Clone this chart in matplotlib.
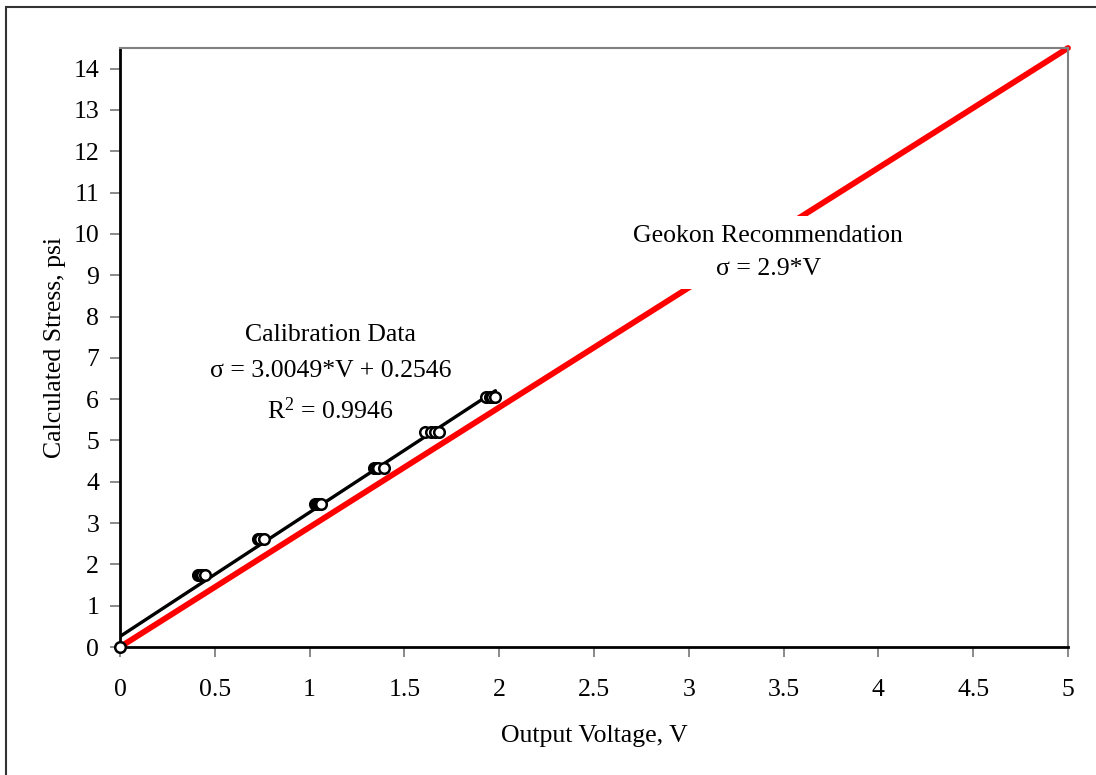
import matplotlib
matplotlib.use('Agg')
import matplotlib.pyplot as plt
from matplotlib.patches import Rectangle

## Data
## ====
voltage = [0.0,
           0.41, 0.42, 0.43, 0.45,
           0.73, 0.74, 0.76,
           1.03, 1.04, 1.05, 1.06,
           1.34, 1.35, 1.36, 1.39,
           1.61, 1.64, 1.66, 1.68,
           1.93, 1.95, 1.96, 1.98]
stress = [0.0,
          1.75, 1.75, 1.75, 1.75,
          2.61, 2.61, 2.61,
          3.46, 3.46, 3.46, 3.46,
          4.33, 4.33, 4.33, 4.33,
          5.20, 5.20, 5.20, 5.20,
          6.06, 6.06, 6.06, 6.06]

fit_slope = 3.0049
fit_intercept = 0.2546
geokon_slope = 2.9
geokon_range = [0, 5]

x_ticks = [0, 0.5, 1, 1.5, 2, 2.5, 3, 3.5, 4, 4.5, 5]
x_tick_labels = ['0', '0.5', '1', '1.5', '2', '2.5', '3', '3.5', '4', '4.5', '5']
y_ticks = list(range(0, 15))

## Style
## =====
plt.rcParams['font.family'] = ['Liberation Serif', 'DejaVu Serif']
plt.rcParams['mathtext.fontset'] = 'custom'
plt.rcParams['mathtext.rm'] = 'Liberation Serif'
plt.rcParams['mathtext.it'] = 'Liberation Serif'

fig = plt.figure(figsize=(10.96, 7.75), dpi=100)

# chart area frame (runs off the right/bottom edge like the original)
fig.patches.append(Rectangle((5.5 / 1096, -0.05), 1.2, 1 - 6.5 / 775 + 0.05,
                             transform=fig.transFigure, fill=False,
                             edgecolor='#333333', linewidth=1.5))

ax = fig.add_axes([120 / 1096, 1 - 647 / 775, 948 / 1096, 599 / 775])

# Geokon recommendation line
gx = geokon_range
gy = [geokon_slope * v for v in gx]
ax.plot(gx, gy, color='#ff0000', linewidth=4.2, solid_capstyle='round', zorder=2, clip_on=False)

# linear fit of calibration data
fx = [0, max(voltage)]
fy = [fit_slope * v + fit_intercept for v in fx]
ax.plot(fx, fy, color='black', linewidth=2.4, solid_capstyle='round', zorder=3)

# calibration points
ax.scatter(voltage, stress, s=58, facecolor='white', edgecolor='black',
           linewidth=1.8, zorder=4, clip_on=False)

ax.set_xlim(0, 5)
ax.set_ylim(0, 14.5)
ax.set_xticks(x_ticks)
ax.set_xticklabels(x_tick_labels)
ax.set_yticks(y_ticks)

for side in ['top', 'right']:
    ax.spines[side].set_color('#808080')
    ax.spines[side].set_linewidth(1.5)
for side in ['left', 'bottom']:
    ax.spines[side].set_color('black')
    ax.spines[side].set_linewidth(2)

ax.tick_params(axis='both', direction='out', length=7, width=1.3, color='#808080',
               labelsize=18.5)
ax.tick_params(axis='x', pad=16)
ax.tick_params(axis='y', pad=8)

ax.set_xlabel('Output Voltage, V', fontsize=18.5, labelpad=17)
ax.set_ylabel('Calculated Stress, psi', fontsize=18.5, labelpad=5)

# annotations
ax.text(1.11, 7.55, 'Calibration Data', fontsize=18.5, ha='center', va='center', zorder=5)
ax.text(1.11, 6.68, '\u03c3 = 3.0049*V + 0.2546', fontsize=18.5, ha='center', va='center', zorder=5)
ax.text(1.11, 5.72, 'R$^{2}$ = 0.9946', fontsize=18.5, ha='center', va='center', zorder=5)

ax.text(3.42, 9.55, 'Geokon Recommendation\n\u03c3 = 2.9*V', fontsize=18.5, ha='center',
        va='center', linespacing=1.7, zorder=5,
        bbox=dict(facecolor='white', edgecolor='none', pad=6))

plt.savefig('out.png', dpi=100)
